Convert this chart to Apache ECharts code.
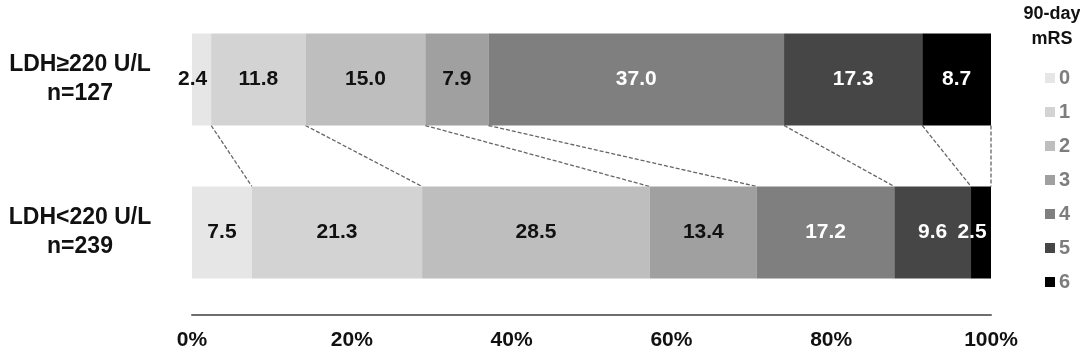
<!DOCTYPE html>
<html>
<head>
<meta charset="utf-8">
<script src="https://cdn.jsdelivr.net/npm/echarts@6/dist/echarts.min.js"></script>
<style>
    html, body { margin: 0; padding: 0; background: #fff; }
    #main { width: 1080px; height: 351px; }
</style>
</head>
<body>
<div id="main"></div>
<script>
/* ============================
   DATOS
============================ */
const grupos = ['LDH\u2265220 U/L\nn=127', 'LDH<220 U/L\nn=239'];
const escalas = ['0', '1', '2', '3', '4', '5', '6'];
const ldhAlto = [2.4, 11.8, 15.0, 7.9, 37.0, 17.3, 8.7];
const ldhBajo = [7.5, 21.3, 28.5, 13.4, 17.2, 9.6, 2.5];
const ticksX = [0, 20, 40, 60, 80, 100];

const colores = ['#e6e6e6', '#d3d3d3', '#bebebe', '#a0a0a0', '#7f7f7f', '#464646', '#000000'];
const coloresTexto = ['#111', '#111', '#111', '#111', '#fff', '#fff', '#fff'];

const FUENTE = '"Liberation Sans", Arial, sans-serif';
const ANCHO_BARRA = 92;

/* ============================
   LINEAS PUNTEADAS ENTRE BARRAS
============================ */
function acumulado(arr) {
    let s = 0;
    return arr.map(v => { s += v; return Math.min(s, 100); });
}
const accAlto = acumulado(ldhAlto);
const accBajo = acumulado(ldhBajo);
const conectores = accAlto.map((v, i) => [v, accBajo[i]]);

const chart = echarts.init(document.getElementById('main'));

// los segmentos muy angostos llevan la etiqueta corrida hacia la izquierda
function etiquetaAngosta(valor) {
    return valor < 3 ? { value: valor, label: { offset: [-9, 0] } } : valor;
}

const seriesBarras = escalas.map((nombre, i) => ({
    name: nombre,
    type: 'bar',
    stack: 'total',
    barWidth: ANCHO_BARRA,
    itemStyle: { color: colores[i] },
    label: {
        show: true,
        position: 'inside',
        color: coloresTexto[i],
        fontFamily: FUENTE,
        fontWeight: 'bold',
        fontSize: 21,
        formatter: p => p.value.toFixed(1)
    },
    data: [etiquetaAngosta(ldhAlto[i]), etiquetaAngosta(ldhBajo[i])]
}));

const serieConectores = {
    type: 'custom',
    silent: true,
    z: 1,
    data: conectores,
    renderItem: function (params, api) {
        const arriba = api.coord([api.value(0), 0]);
        const abajo = api.coord([api.value(1), 1]);
        return {
            type: 'line',
            shape: {
                x1: arriba[0], y1: arriba[1] + ANCHO_BARRA / 2,
                x2: abajo[0], y2: abajo[1] - ANCHO_BARRA / 2
            },
            style: { stroke: '#666', lineWidth: 1.3, lineDash: [4, 2] }
        };
    }
};

const option = {
    animation: false,
    graphic: [{
        type: 'text',
        x: 1052,
        y: 2,
        style: {
            text: '90-day\nmRS',
            textAlign: 'center',
            fontFamily: FUENTE,
            fontWeight: 'bold',
            fontSize: 18,
            lineHeight: 25,
            fill: '#111'
        }
    }],
    legend: {
        data: escalas,
        orient: 'vertical',
        left: 1040,
        top: 63,
        itemWidth: 10,
        itemHeight: 10,
        itemGap: 14,
        icon: 'rect',
        selectedMode: false,
        textStyle: {
            fontFamily: FUENTE,
            fontWeight: 'bold',
            fontSize: 20,
            lineHeight: 20,
            color: '#7d7d7d',
            padding: [0, 0, 0, -1]
        }
    },
    grid: { left: 192, right: 89, top: 3, height: 306 },
    xAxis: {
        type: 'value',
        min: 0,
        max: 100,
        interval: 20,
        offset: 6,
        splitLine: { show: false },
        axisTick: { show: false },
        axisLine: { show: true, lineStyle: { color: '#6e6e6e', width: 2 } },
        axisLabel: {
            margin: 15,
            fontFamily: FUENTE,
            fontWeight: 'bold',
            fontSize: 21,
            color: '#111',
            formatter: v => ticksX.includes(v) ? v + '%' : ''
        }
    },
    yAxis: {
        type: 'category',
        data: grupos,
        inverse: true,
        axisLine: { show: false },
        axisTick: { show: false },
        axisLabel: {
            margin: 112,
            align: 'center',
            padding: [6, 0, 0, 0],
            fontFamily: FUENTE,
            fontWeight: 'bold',
            fontSize: 23,
            lineHeight: 29,
            color: '#111'
        }
    },
    series: [...seriesBarras, serieConectores]
};

chart.setOption(option);
</script>
</body>
</html>
